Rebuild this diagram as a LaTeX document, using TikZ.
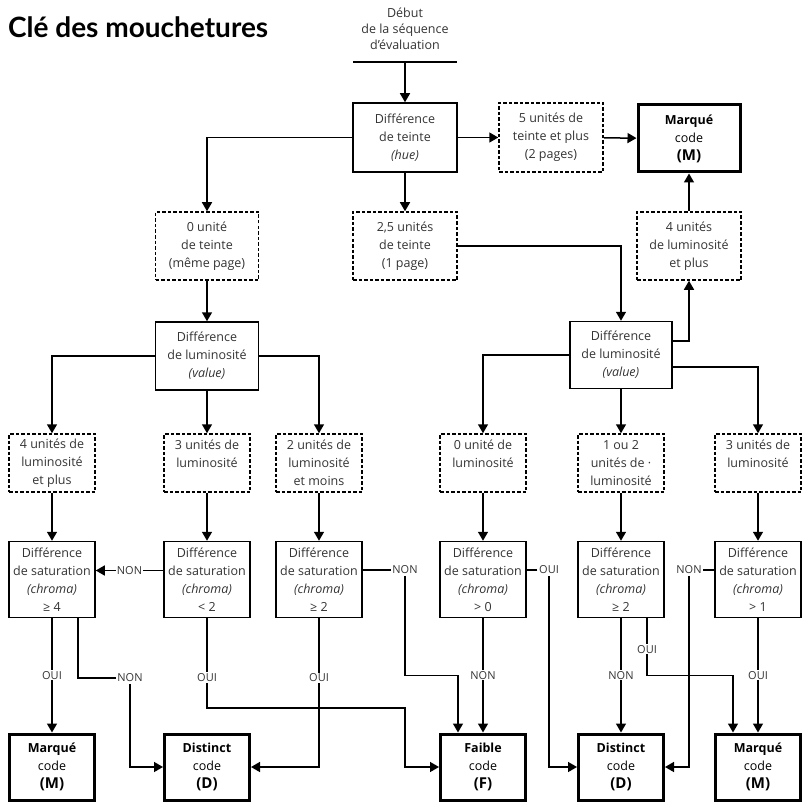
\documentclass[tikz,border=0pt]{standalone}
\usepackage{fontspec}
\setmainfont{Open Sans}
\newfontfamily\titlefont{Lato}
\usetikzlibrary{arrows.meta,positioning,calc}

\newcommand{\codetxt}[2]{\textbf{#1}\\code\\{\bfseries\fontsize{15}{18}\selectfont(#2)}}

\begin{document}
\begin{tikzpicture}[x=1pt,y=-1pt,
    every node/.style={font=\fontsize{12.5}{18}\selectfont, text=black!80, align=center},
    hbox/.style={draw=black, line width=1.5pt, inner sep=0pt, minimum width=104pt, minimum height=69pt},
    dhbox/.style={hbox, dash pattern=on 3.5pt off 2pt},
    rbox/.style={draw=black, line width=1.5pt, dash pattern=on 3.5pt off 2pt, inner sep=0pt, minimum width=86pt, minimum height=58pt},
    sbox/.style={draw=black, line width=1.5pt, inner sep=0pt, minimum width=86pt, minimum height=76pt},
    cbox/.style={draw=black, line width=3pt, inner sep=0pt, minimum width=85pt, minimum height=66pt, text=black},
    lbl/.style={fill=white, inner sep=1pt, font=\fontsize{11}{12}\selectfont},
    arr/.style={-{Triangle[width=10pt,length=9pt]}},
    every path/.style={line width=1.5pt}]

    \useasboundingbox (0,0) rectangle (802,802);

    % title
    \node[anchor=base west, font=\titlefont\bfseries\fontsize{28}{32}\selectfont, text=black] (title) at (4,38) {Clé des mouchetures};

    % start
    \node[font=\fontsize{12.5}{16}\selectfont] (start) at (405,29) {Début\\de la séquence\\d’évaluation};
    \coordinate (go) at (405,62);
    \draw[line width=2.6pt] ([xshift=-52pt]go) -- ([xshift=52pt]go);

    % hue level
    \node[hbox] (hue) at (405,137.5) {Différence\\de teinte\\\textit{(hue)}};
    \node[dhbox] (t5) at (551,137.5) {5 unités de\\teinte et plus\\(2 pages)};
    \node[cbox, minimum width=102pt, minimum height=67pt] (mtop) at (689,138.5) {\codetxt{Marqué}{M}};

    \node[dhbox, minimum width=103pt, minimum height=68pt] (t0) at (207,246) {0 unité\\de teinte\\(même page)};
    \node[dhbox, minimum height=68pt] (t25) at (405,246) {2,5 unités\\de teinte\\(1 page)};
    \node[dhbox, minimum height=68pt] (l4r) at (689,246) {4 unités\\de luminosité\\et plus};

    % value level
    \node[hbox, minimum width=103pt, minimum height=68pt] (lumL) at (207,356) {Différence\\de luminosité\\\textit{(value)}};
    \node[hbox, minimum width=102pt, minimum height=67pt] (lumR) at (621,355) {Différence\\de luminosité\\\textit{(value)}};

    \node[rbox] (a1) at (52,463) {4 unités de\\luminosité\\et plus};
    \node[rbox] (a2) at (207,463) {3 unités de\\luminosité\\\mbox{}};
    \node[rbox] (a3) at (319,463) {2 unités de\\luminosité\\et moins};
    \node[rbox] (a4) at (483,463) {0 unité de\\luminosité\\\mbox{}};
    \node[rbox] (a5) at (621,463) {1 ou 2\\unités de ·\\luminosité};
    \node[rbox] (a6) at (758,463) {3 unités de\\luminosité\\\mbox{}};

    % chroma level
    \node[sbox] (s1) at (52,579.5) {Différence\\de saturation\\\textit{(chroma)}\\≥ 4};
    \node[sbox] (s2) at (207,579.5) {Différence\\de saturation\\\textit{(chroma)}\\< 2};
    \node[sbox] (s3) at (319,579.5) {Différence\\de saturation\\\textit{(chroma)}\\≥ 2};
    \node[sbox] (s4) at (483,579.5) {Différence\\de saturation\\\textit{(chroma)}\\> 0};
    \node[sbox] (s5) at (621,579.5) {Différence\\de saturation\\\textit{(chroma)}\\≥ 2};
    \node[sbox] (s6) at (758,579.5) {Différence\\de saturation\\\textit{(chroma)}\\> 1};

    % codes
    \node[cbox] (c1) at (52,767) {\codetxt{Marqué}{M}};
    \node[cbox] (c2) at (207,767) {\codetxt{Distinct}{D}};
    \node[cbox] (c3) at (483,767) {\codetxt{Faible}{F}};
    \node[cbox] (c4) at (621,767) {\codetxt{Distinct}{D}};
    \node[cbox] (c5) at (758,767) {\codetxt{Marqué}{M}};

    % upper connectors
    \draw[arr] (go) -- (hue.north);
    \draw[arr] (hue) -- (t5);
    \draw[arr] (t5) -- (mtop);
    \draw[arr] (hue.west) -| (t0.north);
    \draw[arr] (hue) -- (t25);
    \draw[arr] (t25.east) -| (lumR.north);
    \draw[arr] ([yshift=14pt]lumR.east) -| (l4r.south);
    \draw[arr] (l4r) -- (mtop);
    \draw[arr] (t0) -- (lumL);

    \draw[arr] (lumL.west) -| (a1.north);
    \draw[arr] (lumL) -- (a2);
    \draw[arr] (lumL.east) -| (a3.north);
    \draw[arr] (lumR.west) -| (a4.north);
    \draw[arr] (lumR) -- (a5);
    \draw[arr] ([yshift=-12pt]lumR.east) -| (a6.north);

    \foreach \i in {1,...,6}
        \draw[arr] (a\i) -- (s\i);

    % side labels
    \node[lbl] (n1) at (130,678) {NON};
    \node[lbl] (n3) at (405,570) {NON};
    \node[lbl] (n4) at (549,570) {OUI};
    \node[lbl] (n6) at (689,570) {NON};

    % lower connectors
    \draw[arr] (s1) -- node[lbl]{OUI} (c1);
    \draw ([xshift=26pt]s1.south) |- (n1.west);
    \draw[arr] (n1.south) |- (c2.west);

    \draw[arr] ([yshift=9pt]s2.west) -- node[lbl]{NON} ([yshift=9pt]s1.east);
    \draw[arr] (s2.south) |- node[lbl,pos=0.33]{OUI} ([xshift=-34pt,yshift=59pt]c3.west) -- ([xshift=-34pt]c3.west) -- (c3.west);

    \draw (n3.west) -- (n3.west -| s3.east);
    \draw[arr] (n3.south) |- ([xshift=-25pt,yshift=57pt]c3.north) -- ([xshift=-25pt]c3.north);
    \draw[arr] (s3.south) |- node[lbl,pos=0.2]{OUI} (c2.east);

    \draw (n4.west) -- (n4.west -| s4.east);
    \draw[arr] (n4.south) |- (c4.west);
    \draw[arr] (s4) -- node[lbl]{NON} (c3);

    \draw[arr] (s5) -- node[lbl]{NON} (c4);
    \draw[arr] ([xshift=26pt]s5.south) |- node[lbl,pos=0.27]{OUI} ([xshift=-25pt,yshift=57pt]c5.north) -- ([xshift=-25pt]c5.north);

    \draw (n6.east) -- (n6.east -| s6.west);
    \draw[arr] (n6.south) |- (c4.east);
    \draw[arr] (s6) -- node[lbl]{OUI} (c5);

\end{tikzpicture}
\end{document}
